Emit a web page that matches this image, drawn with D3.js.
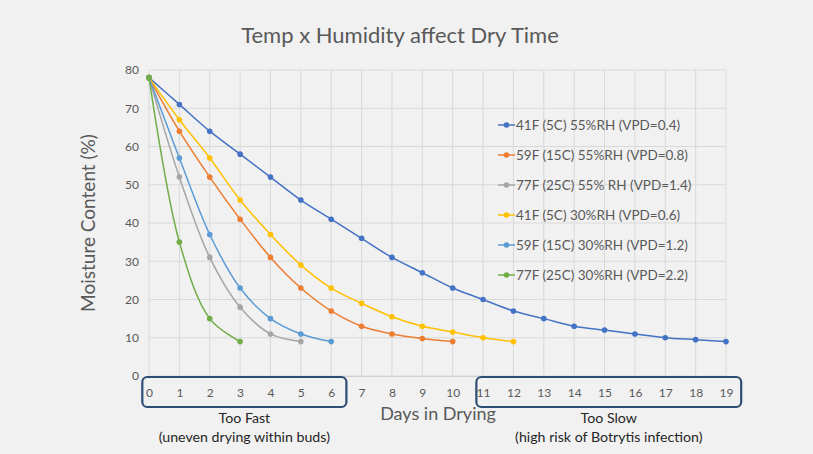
<!DOCTYPE html>
<html>
<head>
<meta charset="utf-8">
<script src="https://cdn.jsdelivr.net/npm/d3@7"></script>
<style>
  body { margin: 0; background: #f1f1f1; }
  svg { display: block; font-family: Lato, "Open Sans", sans-serif; }
</style>
</head>
<body>
<svg></svg>
<script>
// chart values
let days = d3.range(0, 20)
let seriesNames = [
    '41F (5C) 55%RH (VPD=0.4)',
    '59F (15C) 55%RH (VPD=0.8)',
    '77F (25C) 55% RH (VPD=1.4)',
    '41F (5C) 30%RH (VPD=0.6)',
    '59F (15C) 30%RH (VPD=1.2)',
    '77F (25C) 30%RH (VPD=2.2)'
]
let seriesColors = ['#4472C4', '#ED7D31', '#A5A5A5', '#FFC000', '#5B9BD5', '#70AD47']
let moisture41F55 = [78, 71, 64, 58, 52, 46, 41, 36, 31, 27, 23, 20, 17, 15, 13, 12, 11, 10, 9.5, 9]
let moisture59F55 = [78, 64, 52, 41, 31, 23, 17, 13, 11, 9.8, 9]
let moisture77F55 = [78, 52, 31, 18, 11, 9]
let moisture41F30 = [78, 67, 57, 46, 37, 29, 23, 19, 15.5, 13, 11.5, 10, 9]
let moisture59F30 = [78, 57, 37, 23, 15, 11, 9]
let moisture77F30 = [78, 35, 15, 9]
let yTicks = [0, 10, 20, 30, 40, 50, 60, 70, 80]
let zoneFrom = [0, 11]
let zoneTo = [6, 19]
let zoneTitles = ['Too Fast', 'Too Slow']
let zoneNotes = ['(uneven drying within buds)', '(high risk of Botrytis infection)']

let allSeries = [moisture41F55, moisture59F55, moisture77F55, moisture41F30, moisture59F30, moisture77F30]

let width = 813
let height = 454
let plotLeft = 149
let plotRight = 726
let plotTop = 70
let plotBottom = 376

let svg = d3.select('svg')
    .attr('width', width)
    .attr('height', height)

let xScale = d3.scaleLinear()
    .domain([0, 19])
    .range([plotLeft, plotRight])

let yScale = d3.scaleLinear()
    .domain([0, 80])
    .range([plotBottom, plotTop])

// gridlines
svg.append('g')
    .selectAll('line')
    .data(yTicks)
    .enter()
    .append('line')
    .attr('x1', plotLeft)
    .attr('x2', plotRight)
    .attr('y1', d => yScale(d))
    .attr('y2', d => yScale(d))
    .attr('stroke', '#d9d9d9')
    .attr('stroke-width', 1)

svg.append('g')
    .selectAll('line')
    .data(days)
    .enter()
    .append('line')
    .attr('x1', d => xScale(d))
    .attr('x2', d => xScale(d))
    .attr('y1', plotTop)
    .attr('y2', plotBottom)
    .attr('stroke', '#d9d9d9')
    .attr('stroke-width', 1)

// axes
let xAxis = d3.axisBottom(xScale).tickValues(days).tickSize(0).tickPadding(12)
let yAxis = d3.axisLeft(yScale).tickValues(yTicks).tickSize(0).tickPadding(10)

let gx = svg.append('g')
    .attr('transform', 'translate(0,' + plotBottom + ')')
    .call(xAxis)
gx.select('.domain').attr('stroke', '#cfcfcf')
gx.selectAll('text').attr('fill', '#595959').attr('font-size', 12).attr('font-family', 'Lato')

let gy = svg.append('g')
    .attr('transform', 'translate(' + plotLeft + ',0)')
    .call(yAxis)
gy.select('.domain').remove()
gy.selectAll('text').attr('fill', '#595959').attr('font-size', 12).attr('font-family', 'Lato')

// series
let line = d3.line()
    .x((d, i) => xScale(i))
    .y(d => yScale(d))
    .curve(d3.curveCatmullRom.alpha(0.5))

allSeries.forEach((values, k) => {
    svg.append('path')
        .datum(values)
        .attr('fill', 'none')
        .attr('stroke', seriesColors[k])
        .attr('stroke-width', 1.5)
        .attr('d', line)

    svg.append('g')
        .selectAll('circle')
        .data(values)
        .enter()
        .append('circle')
        .attr('cx', (d, i) => xScale(i))
        .attr('cy', d => yScale(d))
        .attr('r', 2.8)
        .attr('fill', seriesColors[k])
})

// legend
let legend = svg.append('g')
    .attr('transform', 'translate(498,125)')

seriesNames.forEach((name, k) => {
    let row = legend.append('g').attr('transform', 'translate(0,' + (k * 30) + ')')
    row.append('line')
        .attr('x1', 0).attr('x2', 17)
        .attr('stroke', seriesColors[k])
        .attr('stroke-width', 1.5)
    row.append('circle')
        .attr('cx', 8.5).attr('r', 2.8)
        .attr('fill', seriesColors[k])
    row.append('text')
        .attr('x', 18)
        .attr('dy', '0.35em')
        .attr('fill', '#595959')
        .attr('font-size', 13.5)
        .text(name)
})

// zone boxes around tick labels
let step = xScale(1) - xScale(0)
zoneFrom.forEach((from, k) => {
    let x0 = xScale(from) - step * 0.22
    let x1 = xScale(zoneTo[k]) + step * 0.5
    svg.append('rect')
        .attr('x', x0)
        .attr('y', plotBottom + 1)
        .attr('width', x1 - x0)
        .attr('height', 30)
        .attr('rx', 5)
        .attr('fill', 'none')
        .attr('stroke', '#2E4D73')
        .attr('stroke-width', 2.2)

    let cx = (x0 + x1) / 2
    svg.append('text')
        .attr('x', cx)
        .attr('y', 423)
        .attr('text-anchor', 'middle')
        .attr('fill', '#262626')
        .attr('font-size', 14.2)
        .text(zoneTitles[k])
    svg.append('text')
        .attr('x', cx)
        .attr('y', 442)
        .attr('text-anchor', 'middle')
        .attr('fill', '#262626')
        .attr('font-size', 14.2)
        .text(zoneNotes[k])
})

// titles
svg.append('text')
    .attr('x', 400)
    .attr('y', 43)
    .attr('text-anchor', 'middle')
    .attr('fill', '#595959')
    .attr('font-size', 22)
    .text('Temp x Humidity affect Dry Time')

svg.append('text')
    .attr('x', 438)
    .attr('y', 420)
    .attr('text-anchor', 'middle')
    .attr('fill', '#595959')
    .attr('font-size', 18)
    .text('Days in Drying')

svg.append('text')
    .attr('transform', 'translate(95,' + ((plotTop + plotBottom) / 2) + ') rotate(-90)')
    .attr('text-anchor', 'middle')
    .attr('fill', '#595959')
    .attr('font-size', 19)
    .text('Moisture Content (%)')
</script>
</body>
</html>
